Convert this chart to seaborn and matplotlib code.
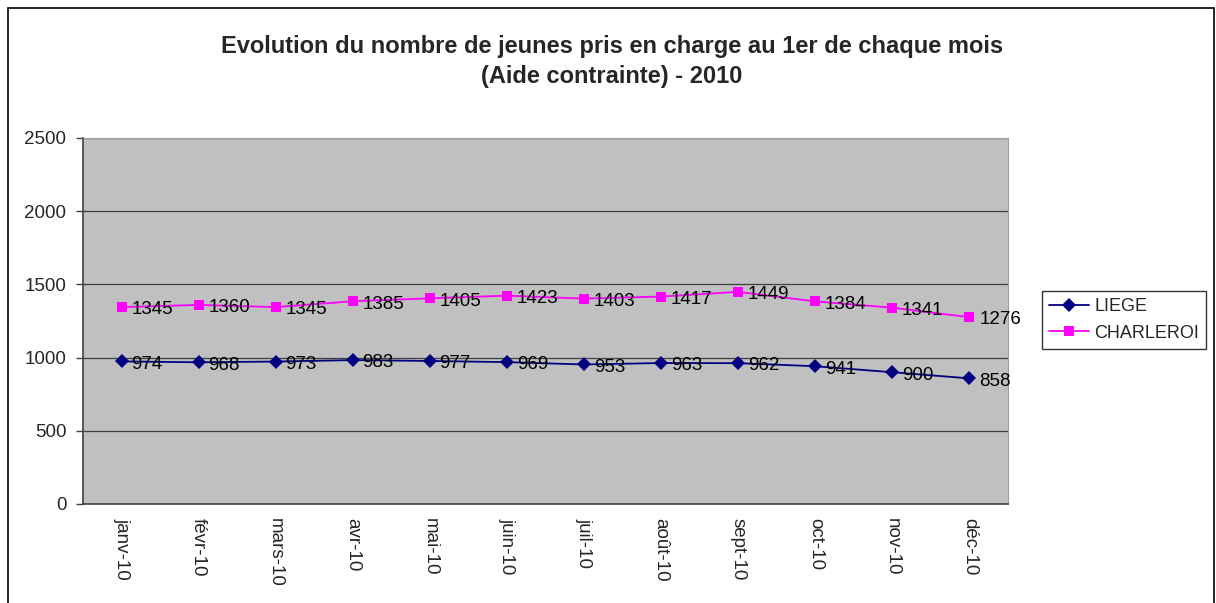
import pandas as pd
import numpy as np
import matplotlib.pyplot as plt
import seaborn as sns
from matplotlib.patches import Rectangle

# Data
months = ["janv-10", "févr-10", "mars-10", "avr-10", "mai-10", "juin-10",
          "juil-10", "août-10", "sept-10", "oct-10", "nov-10", "déc-10"]
liege = [974, 968, 973, 983, 977, 969, 953, 963, 962, 941, 900, 858]
charleroi = [1345, 1360, 1345, 1385, 1405, 1423, 1403, 1417, 1449, 1384, 1341, 1276]

df = pd.DataFrame({
    "mois": months * 2,
    "pos": list(range(len(months))) * 2,
    "valeur": liege + charleroi,
    "ville": ["LIEGE"] * len(months) + ["CHARLEROI"] * len(months),
})

sns.set_style("white")
plt.rcParams["font.family"] = ["Liberation Sans", "DejaVu Sans"]

fig = plt.figure(figsize=(12.16, 6.03), dpi=100)
ax = fig.add_axes([83 / 1216, 1 - 504 / 603, 925 / 1216, 366 / 603])
ax.set_facecolor("#C0C0C0")

colors = {"LIEGE": "#000080", "CHARLEROI": "#FF00FF"}
sns.lineplot(data=df, x="pos", y="valeur", hue="ville", style="ville",
             markers={"LIEGE": "D", "CHARLEROI": "s"}, dashes=False,
             palette=colors, linewidth=1.3, markersize=7,
             markeredgewidth=0, ax=ax, legend=True)
handles, labels = ax.get_legend_handles_labels()
ax.get_legend().remove()

# data labels
for serie in [liege, charleroi]:
    for i, v in enumerate(serie):
        ax.annotate(str(v), (i, v), xytext=(7, -2), textcoords="offset points",
                    ha="left", va="center", fontsize=13.5, color="black")

ax.set_xlim(-0.5, len(months) - 0.5)
ax.set_ylim(0, 2500)
ax.set_yticks(range(0, 2501, 500))
ax.set_yticklabels([str(t) for t in range(0, 2501, 500)], fontsize=13.5)
ax.set_xticks(np.arange(len(months)))
ax.set_xticklabels(months, rotation=-90, fontsize=13.5, va="top", ha="center")
ax.set_xticks(np.arange(-0.5, len(months)), minor=True)
ax.tick_params(axis="x", which="major", length=0, pad=10)
ax.tick_params(axis="x", which="minor", length=5, width=1, color="#404040", direction="out")
ax.tick_params(axis="y", length=5, width=1, color="#404040", direction="out", left=True, pad=7)
ax.grid(axis="y", color="#404040", linewidth=0.9)
ax.set_axisbelow(True)
ax.set_xlabel("")
ax.set_ylabel("")

for s in ["left", "bottom"]:
    ax.spines[s].set_color("#404040")
    ax.spines[s].set_linewidth(1.2)
for s in ["top", "right"]:
    ax.spines[s].set_color("#A0A0A0")
    ax.spines[s].set_linewidth(0.8)

leg = fig.legend(handles, labels, loc="center left", bbox_to_anchor=(1042 / 1216, 1 - 320 / 603),
                 frameon=True, fancybox=False, fontsize=13, handlelength=2.2,
                 borderpad=0.4, labelspacing=0.5, handletextpad=0.3, borderaxespad=0)
leg.get_frame().set_edgecolor("black")
leg.get_frame().set_linewidth(1)

fig.text(0.503, 1 - 47 / 603, "Evolution du nombre de jeunes pris en charge au 1er de chaque mois",
         ha="center", va="center", fontsize=17, fontweight="bold")
fig.text(0.503, 1 - 77 / 603, "(Aide contrainte) - 2010",
         ha="center", va="center", fontsize=17, fontweight="bold")

# outer border
fig.patches.append(Rectangle((8 / 1216, -0.01), 1206 / 1216, 1 - 8 / 603 + 0.01,
                             transform=fig.transFigure, fill=False,
                             edgecolor="black", linewidth=1.2))

fig.savefig("out.png", dpi=100)
